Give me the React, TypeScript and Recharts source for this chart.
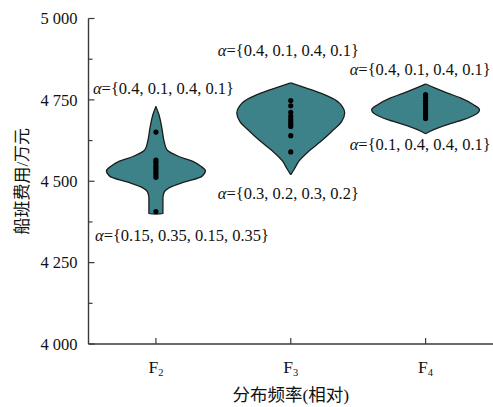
import React from 'react';
import { ComposedChart, Area, Scatter, XAxis, YAxis } from 'recharts';

// categories on the x axis (relative distribution frequency)
const categoryPositions = [1, 2, 3];
const categorySubscripts = ['2', '3', '4'];
const yTicks = [4000, 4125, 4250, 4375, 4500, 4625, 4750, 4875, 5000];

// violin outlines: cost levels (万元) and half widths (density, x-axis units)
const f2Levels = [4730, 4705, 4664, 4622, 4597, 4576, 4561, 4546, 4532, 4515, 4497, 4481, 4464, 4448, 4400, 4399];
const f2HalfWidths = [0, 0.022, 0.044, 0.061, 0.081, 0.17, 0.274, 0.333, 0.367, 0.341, 0.207, 0.104, 0.059, 0.052, 0.052, 0];

const f3Levels = [4802, 4787, 4771, 4751, 4725, 4710, 4684, 4653, 4622, 4592, 4561, 4540, 4520];
const f3HalfWidths = [0, 0.111, 0.222, 0.326, 0.389, 0.4, 0.378, 0.304, 0.222, 0.133, 0.059, 0.03, 0];

const f4Levels = [4799, 4787, 4771, 4756, 4735, 4720, 4705, 4689, 4674, 4658, 4646];
const f4HalfWidths = [0, 0.067, 0.163, 0.259, 0.356, 0.4, 0.37, 0.281, 0.163, 0.056, 0];

// sample points (万元)
const f2Points = [4651, 4565, 4558, 4550, 4543, 4536, 4528, 4520, 4512, 4407];
const f3Points = [4748, 4732, 4712, 4700, 4690, 4682, 4675, 4668, 4640, 4590];
const f4Points = [4766, 4757, 4748, 4740, 4732, 4724, 4716, 4708, 4700, 4693];

// annotations
const annotationTexts = ['{0.4, 0.1, 0.4, 0.1}', '{0.15, 0.35, 0.15, 0.35}', '{0.4, 0.1, 0.4, 0.1}', '{0.3, 0.2, 0.3, 0.2}', '{0.4, 0.1, 0.4, 0.1}', '{0.1, 0.4, 0.4, 0.1}'];
const annotationX = [0.533, 0.548, 1.459, 1.459, 2.437, 2.437];
const annotationV = [4786, 4335, 4904, 4464, 4844, 4614];

const FILL = '#3d8189';
const OUTLINE = '#1c1c1c';
const AXIS = '#3a3a3a';
const FONT = "'Liberation Serif', 'Noto Sans CJK SC', serif";

const violin = (levels: number[], hws: number[], center: number) =>
  levels.map((v, i) => ({ v, r: [center - hws[i], center + hws[i]] }));

const f2Data = violin(f2Levels, f2HalfWidths, categoryPositions[0]);
const f3Data = violin(f3Levels, f3HalfWidths, categoryPositions[1]);
const f4Data = violin(f4Levels, f4HalfWidths, categoryPositions[2]);

const pointData = [
  ...f2Points.map((v) => ({ x: categoryPositions[0], v })),
  ...f3Points.map((v) => ({ x: categoryPositions[1], v })),
  ...f4Points.map((v) => ({ x: categoryPositions[2], v })),
];

const annotationData = annotationTexts.map((t, i) => ({ x: annotationX[i], v: annotationV[i], t }));

const fmt = (v: number) => `${Math.floor(v / 1000)} ${String(v % 1000).padStart(3, '0')}`;

const YTick = (props: any) => {
  const { x, y, payload } = props;
  const major = payload.value % 250 === 0;
  return (
    <g>
      <line x1={x} x2={x + (major ? 6 : 4)} y1={y} y2={y} stroke={AXIS} strokeWidth={1.2} />
      {major && (
        <text x={x - 11} y={y} dy="0.35em" textAnchor="end" fontSize={16.5} fontFamily={FONT} fill="#111">
          {fmt(payload.value)}
        </text>
      )}
    </g>
  );
};

const XTick = (props: any) => {
  const { x, y, payload } = props;
  const i = categoryPositions.indexOf(payload.value);
  return (
    <g>
      <line x1={x} x2={x} y1={y} y2={y - 6} stroke={AXIS} strokeWidth={1.2} />
      <text x={x} y={y + 29} textAnchor="middle" fontSize={17.5} fontFamily={FONT} fill="#111">
        <tspan>F</tspan>
        <tspan fontSize={10.5} dy={3}>{categorySubscripts[i]}</tspan>
      </text>
    </g>
  );
};

const Dot = (p: any) => <circle cx={p.cx} cy={p.cy} r={2.6} fill="#000" />;

const Annot = (p: any) => (
  <text x={p.cx} y={p.cy} dy="0.35em" textAnchor="start" fontSize={16.5} fontFamily={FONT} fill="#111">
    <tspan fontStyle="italic">α</tspan>
    <tspan>={p.payload.t}</tspan>
  </text>
);

const YLabel = (props: any) => {
  const vb = props.viewBox || { x: 8.5, y: 18.5, width: 80, height: 325.5 };
  const cx = vb.x + 13.5;
  const cy = vb.y + vb.height / 2;
  return (
    <text x={cx} y={cy} transform={`rotate(-90, ${cx}, ${cy})`} textAnchor="middle" dominantBaseline="central" fontSize={17} fontFamily={FONT} fill="#111">
      船班费用/万元
    </text>
  );
};

const XLabel = (props: any) => {
  const vb = props.viewBox || { x: 88.5, y: 344, width: 404.5, height: 40 };
  return (
    <text x={vb.x + vb.width / 2} y={vb.y + 51} textAnchor="middle" dominantBaseline="central" fontSize={17.5} fontFamily={FONT} fill="#111">
      分布频率(相对)
    </text>
  );
};

export default function App() {
  return (
    <div style={{ position: 'absolute', left: 0, top: 0, background: '#fff' }}>
      <ComposedChart
        width={493}
        height={407}
        layout="vertical"
        margin={{ top: 18.5, right: 0, bottom: 23, left: 8.5 }}
      >
        <XAxis
          type="number"
          dataKey="x"
          domain={[0.5, 3.5]}
          ticks={categoryPositions}
          allowDataOverflow
          tickSize={0}
          tickMargin={0}
          height={40}
          axisLine={{ stroke: AXIS, strokeWidth: 1.4 }}
          tick={<XTick />}
          label={<XLabel />}
        />
        <YAxis
          type="number"
          dataKey="v"
          domain={[4000, 5000]}
          ticks={yTicks}
          reversed
          allowDataOverflow
          tickSize={0}
          tickMargin={0}
          width={80}
          axisLine={{ stroke: AXIS, strokeWidth: 1.4 }}
          tick={<YTick />}
          label={<YLabel />}
        />
        <Area data={f2Data} dataKey="r" type="monotone" fill={FILL} fillOpacity={1} stroke={OUTLINE} strokeWidth={1.3} dot={false} activeDot={false} isAnimationActive={false} />
        <Area data={f3Data} dataKey="r" type="monotone" fill={FILL} fillOpacity={1} stroke={OUTLINE} strokeWidth={1.3} dot={false} activeDot={false} isAnimationActive={false} />
        <Area data={f4Data} dataKey="r" type="monotone" fill={FILL} fillOpacity={1} stroke={OUTLINE} strokeWidth={1.3} dot={false} activeDot={false} isAnimationActive={false} />
        <Scatter data={pointData} dataKey="v" shape={<Dot />} isAnimationActive={false} />
        <Scatter data={annotationData} dataKey="v" shape={<Annot />} isAnimationActive={false} />
      </ComposedChart>
    </div>
  );
}
